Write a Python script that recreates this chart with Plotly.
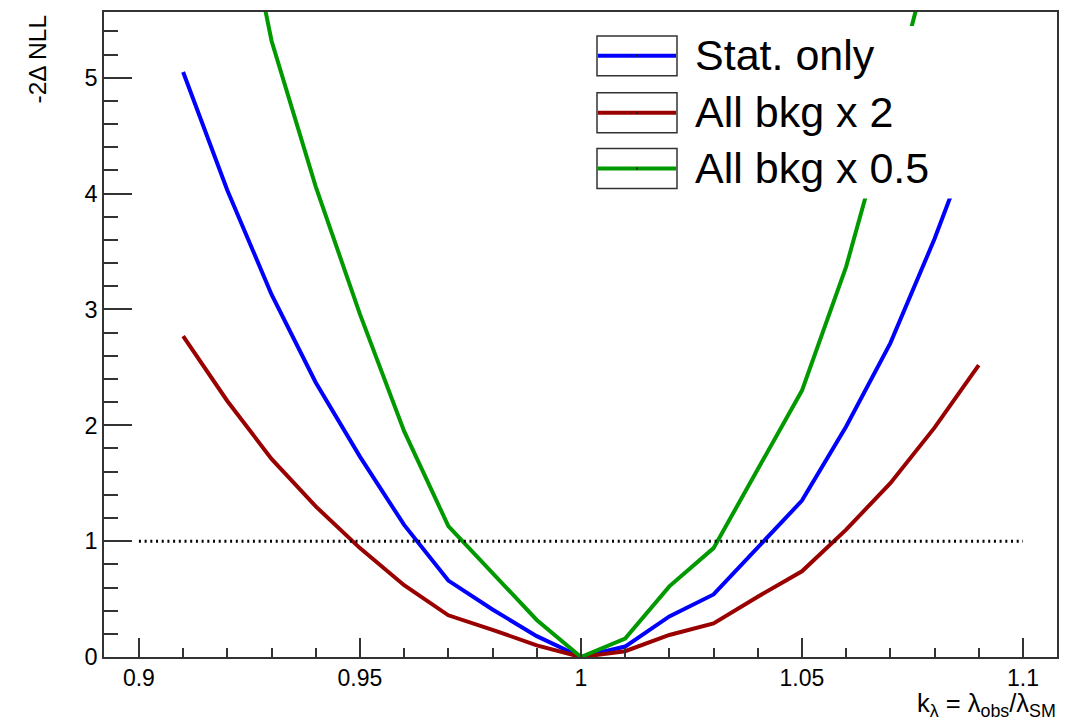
import plotly.graph_objects as go

# ---------------- data ----------------
k_lambda = [0.91, 0.92, 0.93, 0.94, 0.95, 0.96, 0.97, 0.98, 0.99, 1.00,
            1.01, 1.02, 1.03, 1.04, 1.05, 1.06, 1.07, 1.08, 1.09]
stat_only = [5.05, 4.03, 3.13, 2.37, 1.73, 1.14, 0.66, 0.41, 0.18, 0.0,
             0.09, 0.35, 0.54, 0.95, 1.35, 1.99, 2.71, 3.61, 4.62]
all_bkg_x2 = [2.77, 2.21, 1.71, 1.30, 0.94, 0.62, 0.36, 0.235, 0.10, 0.0,
              0.05, 0.19, 0.29, 0.52, 0.74, 1.10, 1.50, 1.98, 2.52]
all_bkg_x05 = [9.4, 7.2, 5.32, 4.06, 2.96, 1.95, 1.13, 0.72, 0.32, 0.0,
               0.16, 0.61, 0.94, 1.62, 2.30, 3.37, 4.74, 6.2, 7.9]

series_names = ["Stat. only", "All bkg x 2", "All bkg x 0.5"]
series_colors = ["#0000ff", "#990000", "#009900"]

ref_line_x = [0.9, 1.1]
ref_line_y = [1, 1]

x_tick_vals = [0.9, 0.95, 1.0, 1.05, 1.1]
x_tick_text = ["0.9", "0.95", "1", "1.05", "1.1"]
y_tick_vals = [0, 1, 2, 3, 4, 5]
y_tick_text = ["0", "1", "2", "3", "4", "5"]

x_title = "k<sub>λ</sub> = λ<sub>obs</sub>/λ<sub>SM</sub>"
y_title = "-2Δ NLL"

# ---------------- layout geometry (pixels) ----------------
W, H = 1080, 721
L, R, T, B = 104, 1057, 10, 657
FONT = "Liberation Sans, Arial, Helvetica, sans-serif"
AX = "#333333"


def px(xp):
    return (xp - L) / (R - L)


def py(yp):
    return (B - yp) / (B - T)


fig = go.Figure()
for name, ys, col in zip(series_names, [stat_only, all_bkg_x2, all_bkg_x05], series_colors):
    fig.add_trace(go.Scatter(x=k_lambda, y=ys, mode="lines", name=name,
                             line=dict(color=col, width=4), showlegend=False))

fig.add_trace(go.Scatter(x=ref_line_x, y=ref_line_y, mode="lines", showlegend=False,
                         line=dict(color="black", width=3, dash="2px,3.7px")))

fig.update_layout(
    width=W, height=H, autosize=False,
    margin=dict(l=L, r=W - R, t=T, b=H - B, pad=0),
    plot_bgcolor="white", paper_bgcolor="white",
    font=dict(family=FONT, color="black"),
    showlegend=False,
)

fig.update_xaxes(
    range=[0.8921, 1.1077], showgrid=False, zeroline=False,
    showline=True, linecolor=AX, linewidth=1.5, mirror=True,
    ticks="inside", ticklen=19, tickwidth=1.5, tickcolor=AX,
    tickmode="array", tickvals=x_tick_vals, ticktext=x_tick_text,
    tickfont=dict(size=23, family=FONT, color="black"),
    minor=dict(ticks="inside", ticklen=9, tickwidth=1.5, tickcolor=AX,
               dtick=0.01, tick0=0.9, showgrid=False),
)
fig.update_yaxes(
    range=[0, 5.568], showgrid=False, zeroline=False,
    showline=True, linecolor=AX, linewidth=1.5, mirror=True,
    ticks="inside", ticklen=28, tickwidth=1.5, tickcolor=AX,
    tickmode="array", tickvals=y_tick_vals, ticktext=y_tick_text,
    tickfont=dict(size=23.5, family=FONT, color="black"),
    minor=dict(ticks="inside", ticklen=14, tickwidth=1.5, tickcolor=AX,
               dtick=0.2, tick0=0, showgrid=False),
)

# axis titles
fig.add_annotation(text=y_title, textangle=-90, xref="paper", yref="paper",
                   x=px(37), y=py(11), xanchor="center", yanchor="top",
                   showarrow=False, font=dict(size=24.5, family=FONT, color="black"))
fig.add_annotation(text=x_title, xref="paper", yref="paper",
                   x=px(1058), y=py(723), xanchor="right", yanchor="bottom",
                   showarrow=False, font=dict(size=25.5, family=FONT, color="black"))

# legend (drawn manually, ROOT style)
shapes = [dict(type="rect", xref="paper", yref="paper", layer="above",
               x0=px(585), x1=px(1000), y0=py(197), y1=py(24),
               fillcolor="white", line=dict(width=0))]
box_tops = [34, 91, 147]
for name, col, top in zip(series_names, series_colors, box_tops):
    mid = top + 20
    shapes.append(dict(type="rect", xref="paper", yref="paper", layer="above",
                       x0=px(597), x1=px(677), y0=py(top + 40), y1=py(top),
                       line=dict(color=AX, width=1.5), fillcolor="rgba(0,0,0,0)"))
    shapes.append(dict(type="line", xref="paper", yref="paper", layer="above",
                       x0=px(598), x1=px(676), y0=py(mid), y1=py(mid),
                       line=dict(color=col, width=4)))
    shapes.append(dict(type="rect", xref="paper", yref="paper", layer="above",
                       x0=px(636), x1=px(638), y0=py(mid + 1), y1=py(mid - 1),
                       line=dict(width=0), fillcolor="#222222"))
    fig.add_annotation(text=name, xref="paper", yref="paper",
                       x=px(693), y=py(mid - 1), xanchor="left", yanchor="middle",
                       showarrow=False, font=dict(size=43, family=FONT, color="black"))
fig.update_layout(shapes=shapes)

fig.write_html("out.html", config={"displayModeBar": False},
               post_script="document.body.style.margin='0';")
